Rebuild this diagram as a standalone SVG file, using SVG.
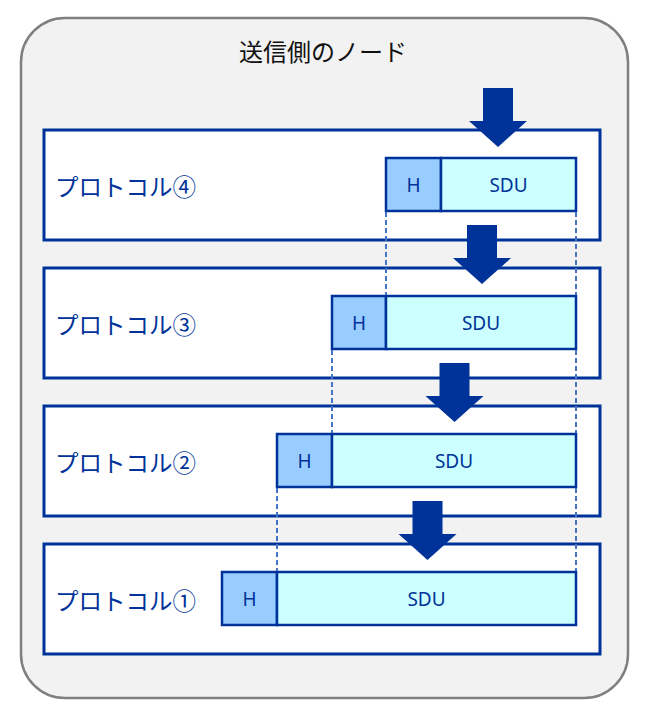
<svg xmlns="http://www.w3.org/2000/svg" width="650" height="720" viewBox="0 0 650 720">
<style>
.layer{fill:#ffffff;stroke:#003399;stroke-width:3}
.hdr{fill:#99ccff;stroke:#003399;stroke-width:2.5}
.sdu{fill:#ccffff;stroke:#003399;stroke-width:2.5}
.lbl{font-family:"Noto Sans CJK JP","Noto Sans",sans-serif;font-size:23.5px;fill:#003399}
.cell{font-family:"Noto Sans","Liberation Sans",sans-serif;font-size:19px;fill:#003399;text-anchor:middle}
.dash{stroke:#4472c4;stroke-width:2;stroke-dasharray:5 3;fill:none}
.arr{fill:#003399}
</style>
<defs>
<path id="arrow" d="M-15 0 H15 V33 H29 L0 59 L-29 33 H-15 Z"/>
</defs>
<g id="sender-node">
<rect x="21" y="18" width="607" height="680" rx="44" ry="44" fill="#f2f2f2" stroke="#808080" stroke-width="2.5"/>
<text x="323" y="61" font-family="'Noto Sans CJK JP',sans-serif" font-size="24" fill="#111" text-anchor="middle">送信側のノード</text>
</g>
<g id="protocol4">
<rect class="layer" x="44" y="130" width="556" height="110"/>
<text class="lbl" x="55" y="196">プロトコル④</text>
<rect class="hdr" x="386" y="158" width="55" height="53"/>
<rect class="sdu" x="441" y="158" width="135" height="53"/>
<text class="cell" x="413.5" y="191.5">H</text>
<text class="cell" x="508.5" y="191.5">SDU</text>
</g>
<g id="protocol3">
<rect class="layer" x="44" y="268" width="556" height="110"/>
<text class="lbl" x="55" y="334">プロトコル③</text>
<rect class="hdr" x="332" y="296" width="54" height="53"/>
<rect class="sdu" x="386" y="296" width="190" height="53"/>
<text class="cell" x="359" y="329.5">H</text>
<text class="cell" x="481" y="329.5">SDU</text>
</g>
<g id="protocol2">
<rect class="layer" x="44" y="406" width="556" height="110"/>
<text class="lbl" x="55" y="472">プロトコル②</text>
<rect class="hdr" x="277" y="434" width="55" height="53"/>
<rect class="sdu" x="332" y="434" width="244" height="53"/>
<text class="cell" x="304.5" y="467.5">H</text>
<text class="cell" x="454" y="467.5">SDU</text>
</g>
<g id="protocol1">
<rect class="layer" x="44" y="544" width="556" height="110"/>
<text class="lbl" x="55" y="610">プロトコル①</text>
<rect class="hdr" x="222" y="572" width="55" height="53"/>
<rect class="sdu" x="277" y="572" width="299" height="53"/>
<text class="cell" x="249.5" y="605.5">H</text>
<text class="cell" x="426.5" y="605.5">SDU</text>
</g>
<g id="connectors">
<line class="dash" x1="386" y1="212" x2="386" y2="295"/>
<line class="dash" x1="576" y1="212" x2="576" y2="295"/>
<line class="dash" x1="332" y1="350" x2="332" y2="433"/>
<line class="dash" x1="576" y1="350" x2="576" y2="433"/>
<line class="dash" x1="277" y1="488" x2="277" y2="571"/>
<line class="dash" x1="576" y1="488" x2="576" y2="571"/>
<use href="#arrow" class="arr" x="498" y="88"/>
<use href="#arrow" class="arr" x="482" y="225"/>
<use href="#arrow" class="arr" x="454.5" y="363"/>
<use href="#arrow" class="arr" x="427.5" y="501"/>
</g>
</svg>
